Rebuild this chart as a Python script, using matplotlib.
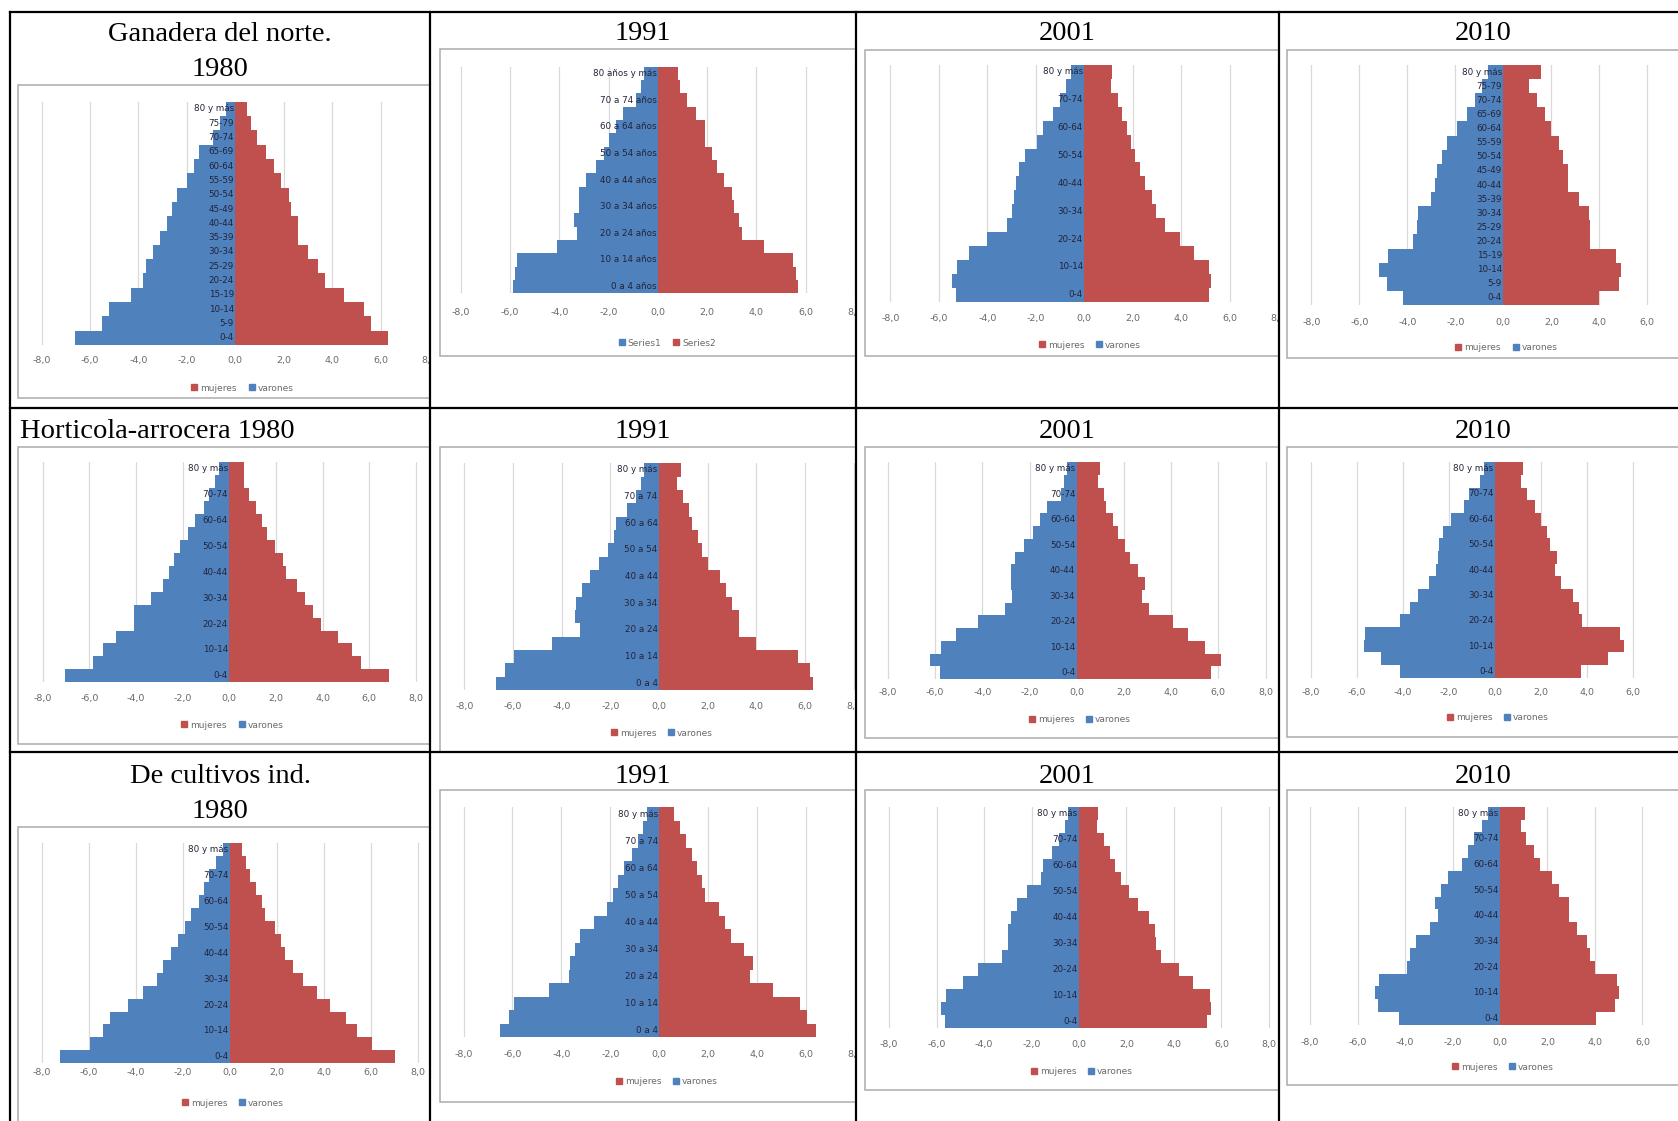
import numpy as np
import matplotlib
matplotlib.use("Agg")
import matplotlib.pyplot as plt
from matplotlib.patches import Rectangle
from matplotlib.lines import Line2D
from matplotlib.transforms import Bbox, TransformedBbox, blended_transform_factory

# ---------------- data (percent of population, 0-4 ... 80+) ----------------
ages_dash = ["0-4", "5-9", "10-14", "15-19", "20-24", "25-29", "30-34", "35-39", "40-44",
             "45-49", "50-54", "55-59", "60-64", "65-69", "70-74", "75-79", "80 y más"]
ages_anos = ["0 a 4 años", "5 a 9 años", "10 a 14 años", "15 a 19 años", "20 a 24 años",
             "25 a 29 años", "30 a 34 años", "35 a 39 años", "40 a 44 años", "45 a 49 años",
             "50 a 54 años", "55 a 59 años", "60 a 64 años", "65 a 69 años", "70 a 74 años",
             "75 a 79 años", "80 años y más"]
ages_a = ["0 a 4", "5 a 9", "10 a 14", "15 a 19", "20 a 24", "25 a 29", "30 a 34", "35 a 39",
          "40 a 44", "45 a 49", "50 a 54", "55 a 59", "60 a 64", "65 a 69", "70 a 74",
          "75 a 79", "80 y más"]

gan_1980_var = [6.6, 5.5, 5.2, 4.3, 3.8, 3.7, 3.4, 3.1, 2.8, 2.6, 2.4, 2.0, 1.7, 1.5, 0.9, 0.65, 0.4]
gan_1980_muj = [6.3, 5.6, 5.3, 4.5, 3.7, 3.4, 3.0, 2.6, 2.6, 2.3, 2.2, 1.9, 1.6, 1.25, 0.9, 0.65, 0.5]
gan_1991_var = [5.9, 5.8, 5.7, 4.1, 3.3, 3.4, 3.2, 3.2, 2.9, 2.5, 2.2, 2.0, 1.7, 1.4, 0.9, 0.7, 0.55]
gan_1991_muj = [5.7, 5.6, 5.5, 4.3, 3.4, 3.3, 3.1, 3.0, 2.7, 2.4, 2.2, 1.9, 1.9, 1.55, 1.2, 0.9, 0.8]
gan_2001_var = [5.3, 5.45, 5.25, 4.75, 4.0, 3.2, 3.0, 2.9, 2.8, 2.7, 2.45, 1.95, 1.7, 1.3, 1.0, 0.75, 0.55]
gan_2001_muj = [5.15, 5.25, 5.15, 4.55, 3.95, 3.35, 2.95, 2.8, 2.5, 2.3, 2.1, 1.95, 1.75, 1.55, 1.4, 1.1, 1.15]
gan_2010_var = [4.2, 4.85, 5.2, 4.8, 3.75, 3.6, 3.55, 3.0, 2.85, 2.75, 2.55, 2.35, 1.95, 1.5, 1.2, 0.9, 0.65]
gan_2010_muj = [4.0, 4.8, 4.9, 4.7, 3.6, 3.6, 3.55, 3.15, 2.7, 2.7, 2.5, 2.3, 2.0, 1.75, 1.4, 1.05, 1.55]

hor_1980_var = [7.05, 5.85, 5.4, 4.85, 4.1, 4.1, 3.35, 2.85, 2.6, 2.35, 2.1, 1.75, 1.45, 1.1, 0.85, 0.6, 0.45]
hor_1980_muj = [6.85, 5.65, 5.25, 4.65, 3.95, 3.6, 3.25, 2.9, 2.45, 2.3, 1.95, 1.6, 1.4, 1.15, 0.85, 0.65, 0.65]
hor_1991_var = [6.7, 6.35, 5.95, 4.4, 3.25, 3.45, 3.4, 3.15, 2.85, 2.45, 2.1, 1.85, 1.75, 1.3, 0.95, 0.75, 0.6]
hor_1991_muj = [6.35, 6.2, 5.7, 4.0, 3.3, 3.3, 3.0, 2.75, 2.5, 2.0, 1.75, 1.6, 1.35, 1.25, 1.0, 0.75, 0.9]
hor_2001_var = [5.8, 6.2, 5.75, 5.1, 4.2, 3.05, 2.75, 2.8, 2.8, 2.6, 2.25, 1.85, 1.55, 1.25, 0.65, 0.55, 0.4]
hor_2001_muj = [5.7, 6.1, 5.45, 4.7, 4.1, 3.05, 2.75, 2.9, 2.6, 2.25, 2.05, 1.75, 1.55, 1.25, 1.15, 0.9, 1.0]
hor_2010_var = [4.15, 4.95, 5.7, 5.65, 4.15, 3.7, 3.35, 2.85, 2.55, 2.5, 2.45, 2.25, 1.9, 1.35, 1.15, 0.65, 0.5]
hor_2010_muj = [3.75, 4.9, 5.6, 5.45, 3.8, 3.65, 3.4, 2.85, 2.6, 2.7, 2.4, 2.25, 2.0, 1.75, 1.4, 1.15, 1.2]

cul_1980_var = [7.25, 5.95, 5.4, 5.1, 4.35, 3.7, 3.1, 2.85, 2.5, 2.2, 1.9, 1.65, 1.3, 1.1, 0.9, 0.6, 0.3]
cul_1980_muj = [7.0, 6.05, 5.4, 4.95, 4.25, 3.7, 3.1, 2.7, 2.35, 2.15, 1.9, 1.5, 1.35, 1.1, 0.85, 0.7, 0.5]
cul_1991_var = [6.5, 6.15, 5.95, 4.5, 3.7, 3.65, 3.45, 3.25, 2.65, 2.15, 1.9, 1.7, 1.45, 1.1, 0.85, 0.65, 0.5]
cul_1991_muj = [6.4, 6.05, 5.75, 4.65, 3.7, 3.85, 3.45, 2.95, 2.7, 2.45, 1.85, 1.75, 1.55, 1.35, 1.1, 0.85, 0.6]
cul_2001_var = [5.65, 5.8, 5.6, 4.9, 4.25, 3.25, 3.0, 3.0, 2.85, 2.6, 2.2, 1.6, 1.5, 1.15, 0.85, 0.6, 0.45]
cul_2001_muj = [5.4, 5.55, 5.5, 4.8, 4.2, 3.45, 3.25, 3.2, 2.95, 2.5, 2.1, 1.75, 1.5, 1.3, 1.05, 0.75, 0.8]
cul_2010_var = [4.25, 5.15, 5.25, 5.1, 3.9, 3.8, 3.55, 2.95, 2.6, 2.75, 2.5, 2.2, 1.6, 1.35, 1.1, 0.75, 0.5]
cul_2010_muj = [4.05, 4.85, 5.0, 4.95, 4.0, 3.8, 3.65, 3.25, 2.9, 2.9, 2.5, 2.2, 1.7, 1.45, 1.1, 0.9, 1.05]

x_ticks = [-8, -6, -4, -2, 0, 2, 4, 6, 8]
x_tick_labels = ["-8,0", "-6,0", "-4,0", "-2,0", "0,0", "2,0", "4,0", "6,0", "8,0"]

# ---------------- styles / layout ----------------
W, H, DPI = 1678, 1121, 100
BLUE = "#4F81BD"
RED = "#C0504D"
GRAY_TXT = "#6a6a6a"
LBL_TXT = "#232338"

col_x = [10, 430, 856, 1279, 1700]
row_y = [12, 408, 752, 1140]


def fx(x):
    return x / W


def fy(y):
    return 1 - y / H


fig = plt.figure(figsize=(W / DPI, H / DPI), dpi=DPI)
fig.patch.set_facecolor("white")

# panel specs: row, col, var, muj, labels, label step, legend style, geometry
# geometry: frame (l,t,r,b), x0 pixel of 0, pixels per unit, bar top, bar bottom, tick y, legend y
panels = [
    (0, 0, gan_1980_var, gan_1980_muj, ages_dash, 1, "mv", (18, 85, 430, 398), 239.3, 24.67, 101.7, 345.0, 360, 388),
    (0, 1, gan_1991_var, gan_1991_muj, ages_anos, 2, "series", (440, 49, 856, 356), 664.0, 25.33, 66.7, 293.3, 313, 343),
    (0, 2, gan_2001_var, gan_2001_muj, ages_dash, 2, "mv", (865, 50, 1279, 356), 1086.7, 24.5, 65.0, 301.7, 318, 345),
    (0, 3, gan_2010_var, gan_2010_muj, ages_dash, 1, "mv", (1287, 50, 1700, 358), 1503.3, 24.0, 65.0, 305.0, 322, 348),
    (1, 0, hor_1980_var, hor_1980_muj, ages_dash, 2, "mv", (18, 447, 430, 744), 229.3, 23.33, 462.3, 682.3, 698, 725),
    (1, 1, hor_1991_var, hor_1991_muj, ages_a, 2, "mv", (440, 447, 856, 752), 659.0, 24.33, 463.3, 690.0, 707, 733),
    (1, 2, hor_2001_var, hor_2001_muj, ages_dash, 2, "mv", (865, 447, 1279, 738), 1076.7, 23.6, 462.3, 679.0, 693, 720),
    (1, 3, hor_2010_var, hor_2010_muj, ages_dash, 2, "mv", (1287, 447, 1700, 737), 1495.0, 23.0, 462.3, 677.7, 692, 718),
    (2, 0, cul_1980_var, cul_1980_muj, ages_dash, 2, "mv", (18, 827, 430, 1135), 230.0, 23.5, 843.3, 1063.3, 1073, 1103),
    (2, 1, cul_1991_var, cul_1991_muj, ages_a, 2, "mv", (440, 790, 856, 1102), 664.0, 25.0, 807.3, 1037.3, 1054, 1082),
    (2, 2, cul_2001_var, cul_2001_muj, ages_dash, 2, "mv", (865, 790, 1279, 1090), 1079.0, 23.73, 806.7, 1028.3, 1045, 1072),
    (2, 3, cul_2010_var, cul_2010_muj, ages_dash, 2, "mv", (1287, 790, 1700, 1085), 1500.0, 23.73, 806.7, 1025.0, 1043, 1067),
]

for (r, c, var, muj, labels, step, leg, frame, x0, ppu, btop, bbot, tick_y, leg_y) in panels:
    cl, cr = col_x[c], min(col_x[c + 1], W)
    ct, cb = row_y[r], row_y[r + 1]
    cellbox = TransformedBbox(Bbox.from_extents(fx(cl), fy(cb), fx(cr), fy(ct)), fig.transFigure)
    l, t, rr, b = frame
    rr = min(rr, col_x[c + 1])
    fig.patches.append(Rectangle((fx(l), fy(b)), fx(rr) - fx(l), fy(t) - fy(b),
                                 transform=fig.transFigure, facecolor="white",
                                 edgecolor="#ABABAB", lw=1.1, zorder=-5))
    al, ar = l + 1, rr - 1
    ax = fig.add_axes([fx(al), fy(bbot), fx(ar) - fx(al), fy(btop) - fy(bbot)])
    ax.set_facecolor("none")
    ax.set_xlim((al - x0) / ppu, (ar - x0) / ppu)
    ax.set_ylim(-0.5, len(var) - 0.5)
    y = np.arange(len(var))
    ax.barh(y, -np.array(var), height=1.0, color=BLUE, zorder=2, linewidth=0)
    ax.barh(y, np.array(muj), height=1.0, color=RED, zorder=2, linewidth=0)
    ax.set_xticks(x_ticks)
    ax.set_xticklabels([])
    ax.set_yticks([])
    ax.tick_params(length=0)
    ax.grid(axis="x", color="#D9D9D9", lw=0.9, zorder=0)
    ax.set_axisbelow(True)
    for s in ax.spines.values():
        s.set_visible(False)
    for i in range(0, len(labels), step):
        ax.annotate(labels[i], xy=(0, i), xytext=(-1.0, 0), textcoords="offset points",
                    ha="right", va="center", fontsize=6.3, color=LBL_TXT, zorder=5)
    tr = blended_transform_factory(ax.transData, fig.transFigure)
    for tv, tl in zip(x_ticks, x_tick_labels):
        # skip labels that would fall off the right edge of the picture
        if x0 + tv * ppu > W - 12:
            continue
        txt = fig.text(tv, fy(tick_y), tl, transform=tr, ha="center", va="center",
                       fontsize=6.8, color=GRAY_TXT)
        txt.set_clip_on(True)
        txt.set_clip_box(cellbox)
    if leg == "series":
        handles = [Line2D([0], [0], marker="s", ls="", color=BLUE, markersize=4),
                   Line2D([0], [0], marker="s", ls="", color=RED, markersize=4)]
        names = ["Series1", "Series2"]
    else:
        handles = [Line2D([0], [0], marker="s", ls="", color=RED, markersize=4),
                   Line2D([0], [0], marker="s", ls="", color=BLUE, markersize=4)]
        names = ["mujeres", "varones"]
    fig.legend(handles, names, loc="center", bbox_to_anchor=(fx(x0 + 3), fy(leg_y)),
               ncol=2, frameon=False, fontsize=6.5, labelcolor=GRAY_TXT,
               handlelength=0.7, handletextpad=0.3, columnspacing=1.3, borderpad=0)

# ---------------- titles ----------------
TF = dict(fontfamily="Liberation Serif", fontsize=20.5, color="black", va="baseline")
centers = [(col_x[i] + col_x[i + 1]) / 2 for i in range(3)] + [1483]
fig.text(fx(centers[0]), fy(41), "Ganadera del norte.", ha="center", **TF)
fig.text(fx(centers[0]), fy(76), "1980", ha="center", **TF)
fig.text(fx(20), fy(438), "Horticola-arrocera 1980", ha="left", **TF)
fig.text(fx(centers[0]), fy(783), "De cultivos ind.", ha="center", **TF)
fig.text(fx(centers[0]), fy(818), "1980", ha="center", **TF)
for yr_base in (40, 438, 783):
    for ci, yr in zip((1, 2, 3), ("1991", "2001", "2010")):
        fig.text(fx(centers[ci]), fy(yr_base), yr, ha="center", **TF)

# ---------------- table lines ----------------
for x in col_x[:4]:
    fig.add_artist(Line2D([fx(x), fx(x)], [fy(row_y[0]), fy(H + 5)], transform=fig.transFigure,
                          color="black", lw=1.6, zorder=20))
for yv in row_y[:3]:
    fig.add_artist(Line2D([fx(col_x[0]), fx(W + 5)], [fy(yv), fy(yv)], transform=fig.transFigure,
                          color="black", lw=1.6, zorder=20))

fig.savefig("out.png", dpi=DPI, facecolor="white")
